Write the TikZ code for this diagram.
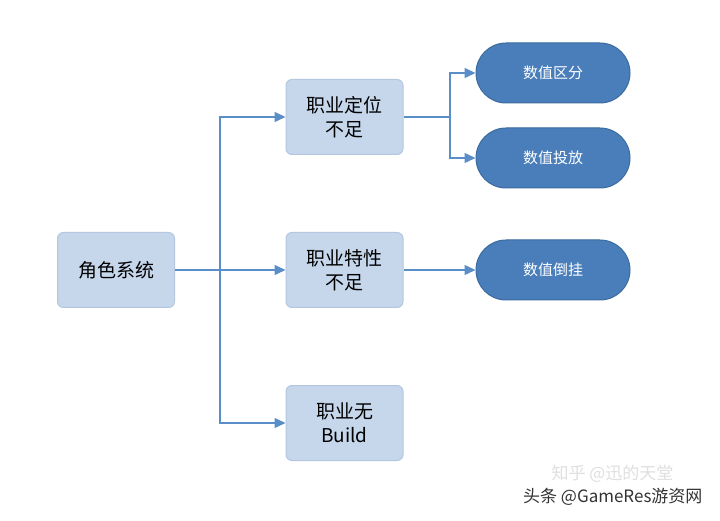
\documentclass[tikz,border=0pt]{standalone}
\usepackage{fontspec}
\setmainfont{Noto Sans CJK SC}
\usetikzlibrary{arrows.meta}
\definecolor{boxf}{HTML}{C6D7EC}
\definecolor{boxd}{HTML}{B3C7E0}
\definecolor{pillf}{HTML}{4A7EBB}
\definecolor{pilld}{HTML}{3B6A9F}
\definecolor{ln}{HTML}{5A8EC9}
\begin{document}
\begin{tikzpicture}[x=1pt,y=-1pt,
 bx/.style={draw=boxd,fill=boxf,rounded corners=6pt,minimum width=117pt,minimum height=75pt,align=center,font=\fontsize{19}{24}\selectfont,line width=1pt},
 pill/.style={draw=pilld,fill=pillf,rounded corners=30pt,minimum width=154pt,minimum height=60pt,text=white,font=\fontsize{15}{18}\selectfont,line width=1pt},
 con/.style={draw=ln,line width=1.5pt},
 arr/.style={con,-{Triangle[length=11pt,width=10pt]}}]
\useasboundingbox (0,0) rectangle (720,521);
\fill[white] (0,0) rectangle (720,521);
\node[bx] (root) at (116,270) {角色系统};
\node[bx] (a) at (344.5,117) {职业定位\\不足};
\node[bx] (b) at (344.5,270) {职业特性\\不足};
\node[bx] (c) at (344.5,423) {职业无\\Build};
\node[pill] (p1) at (553,73) {数值区分};
\node[pill] (p2) at (553,158) {数值投放};
\node[pill] (p3) at (553,270) {数值倒挂};
\coordinate (t) at (220,270);
\coordinate (u) at (450,117);
\draw[con] (root.east) -- (t);
\draw[arr] (t) |- (a.west);
\draw[arr] (t) -- (b.west);
\draw[arr] (t) |- (c.west);
\draw[con] (a.east) -- (u);
\draw[arr] (u) |- (p1.west);
\draw[arr] (u) |- (p2.west);
\draw[arr] (b.east) -- (p3.west);
\node[text=gray!25,font=\fontsize{17}{20}\selectfont,anchor=west] (w1) at (548,474) {知乎 @迅的天堂};
\node[text=black!80,font=\fontsize{17}{20}\selectfont,anchor=east] (w2) at (706,497) {头条 @GameRes游资网};
\end{tikzpicture}
\end{document}
